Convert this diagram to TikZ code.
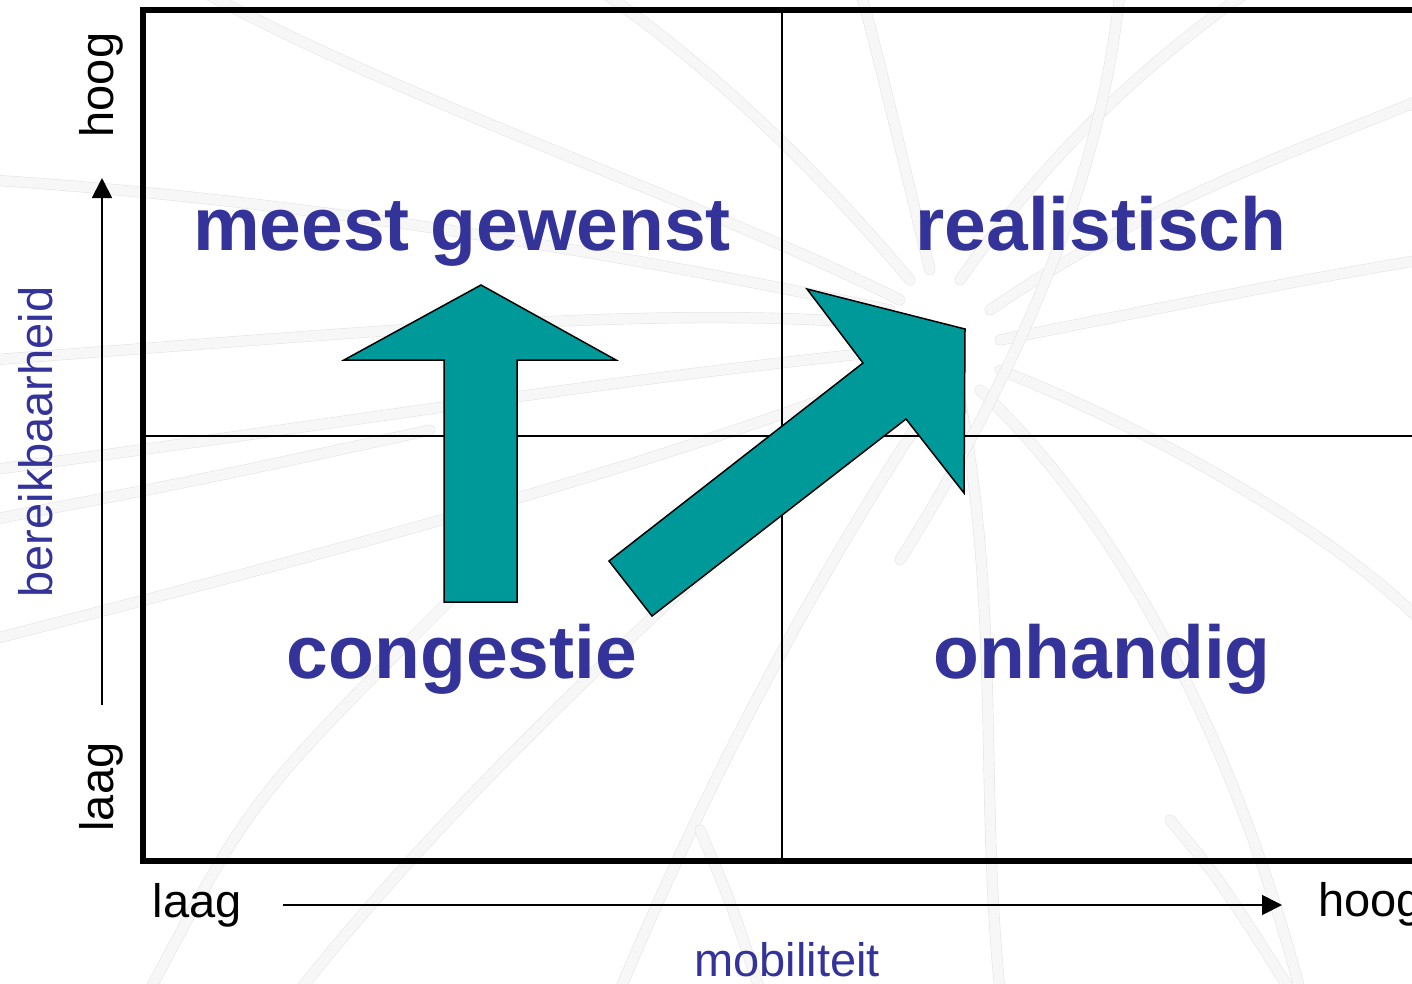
\documentclass[tikz,border=0pt]{standalone}
\usepackage{fontspec}
\setmainfont{Liberation Sans}
\usetikzlibrary{arrows.meta}
\definecolor{lblue}{RGB}{51,51,153}
\definecolor{tealfill}{RGB}{0,153,153}
\begin{document}
\begin{tikzpicture}[x=1pt,y=-1pt,
  tent/.style={draw=gray!20, double=gray!6, double distance=10pt, line width=0.6pt, line cap=round},
  frameline/.style={line width=6pt, line join=miter},
  gridline/.style={line width=2pt},
  axis/.style={line width=1.8pt, -{Triangle[length=20pt,width=20pt]}},
  big/.style={font=\fontsize{75}{75}\selectfont\bfseries, text=lblue, inner sep=0pt, anchor=base},
  small/.style={font=\fontsize{47}{47}\selectfont, inner sep=0pt, anchor=base},
  bigarrow/.style={fill=tealfill, draw=black, line width=1.5pt, line join=miter}]
\useasboundingbox (0,0) rectangle (1412,983);
\clip (0,0) rectangle (1412,983);
% background sketch
\draw[tent] (940,330) .. controls (700,300) and (400,330) .. (-10,360);
\draw[tent] (900,350) .. controls (600,380) and (300,430) .. (-10,470);
\draw[tent] (900,370) .. controls (650,470) and (300,560) .. (-10,640);
\draw[tent] (930,380) .. controls (700,560) and (450,800) .. (300,990);
\draw[tent] (940,390) .. controls (800,600) and (700,800) .. (620,990);
\draw[tent] (960,400) .. controls (1000,600) and (980,800) .. (1000,990);
\draw[tent] (980,390) .. controls (1150,550) and (1250,800) .. (1300,990);
\draw[tent] (1000,370) .. controls (1200,450) and (1350,550) .. (1420,620);
\draw[tent] (1000,340) .. controls (1200,300) and (1300,280) .. (1420,260);
\draw[tent] (990,310) .. controls (1150,200) and (1300,150) .. (1420,100);
\draw[tent] (960,280) .. controls (1050,150) and (1150,60) .. (1250,-10);
\draw[tent] (930,270) .. controls (900,150) and (880,60) .. (860,-10);
\draw[tent] (910,280) .. controls (800,150) and (700,60) .. (600,-10);
\draw[tent] (900,300) .. controls (700,200) and (400,100) .. (200,-10);
\draw[tent] (890,310) .. controls (600,250) and (300,200) .. (-10,180);
\draw[tent] (1120,-10) .. controls (1100,200) and (1000,400) .. (900,560);
\draw[tent] (1170,820) .. controls (1220,880) .. (1290,990);
\draw[tent] (700,830) .. controls (730,900) .. (760,990);
\draw[tent] (-10,520) .. controls (200,480) .. (430,430);
\draw[tent] (150,990) .. controls (250,800) .. (450,600);
% frame and quadrants
\coordinate (tr) at (1430,10);
\coordinate (tl) at (143,10);
\coordinate (bl) at (143,861);
\coordinate (br) at (1430,861);
\coordinate (vt) at (782,10);
\coordinate (vb) at (782,861);
\coordinate (hl) at (143,436);
\coordinate (hr) at (1430,436);
\draw[gridline] (vt) -- (vb);
\draw[gridline] (hl) -- (hr);
\draw[frameline] (tr) -- (tl) -- (bl) -- (br);
% axes
\coordinate (ys) at (102,705);
\coordinate (ye) at (102,178);
\coordinate (xs) at (283,905);
\coordinate (xe) at (1282,905);
\draw[axis] (ys) -- (ye);
\draw[axis] (xs) -- (xe);
% big arrows
\draw[bigarrow] (481,285) -- (616,360) -- (517,360) -- (517,602) -- (444,602) -- (444,360) -- (344,360) -- cycle;
\draw[bigarrow] (609,561) -- (863,363) -- (807,289) -- (965,329) -- (964,493) -- (906,419) -- (652,616) -- cycle;
% labels
\node[big] (q1) at (462,250) {meest gewenst};
\node[big] (q2) at (1101,250) {realistisch};
\node[big] (q3) at (462,678) {congestie};
\node[big] (q4) at (1102,678) {onhandig};
\node[small] (xl) at (197,917) {laag};
\node[small, anchor=base west] (xh) at (1318,916) {hoog};
\node[small, text=lblue] (xt) at (787,976) {mobiliteit};
\node[small, rotate=90] (yh) at (113,85) {hoog};
\node[small, rotate=90] (yl) at (113,787) {laag};
\node[small, rotate=90, text=lblue] (yt) at (52,442) {bereikbaarheid};
\end{tikzpicture}
\end{document}
